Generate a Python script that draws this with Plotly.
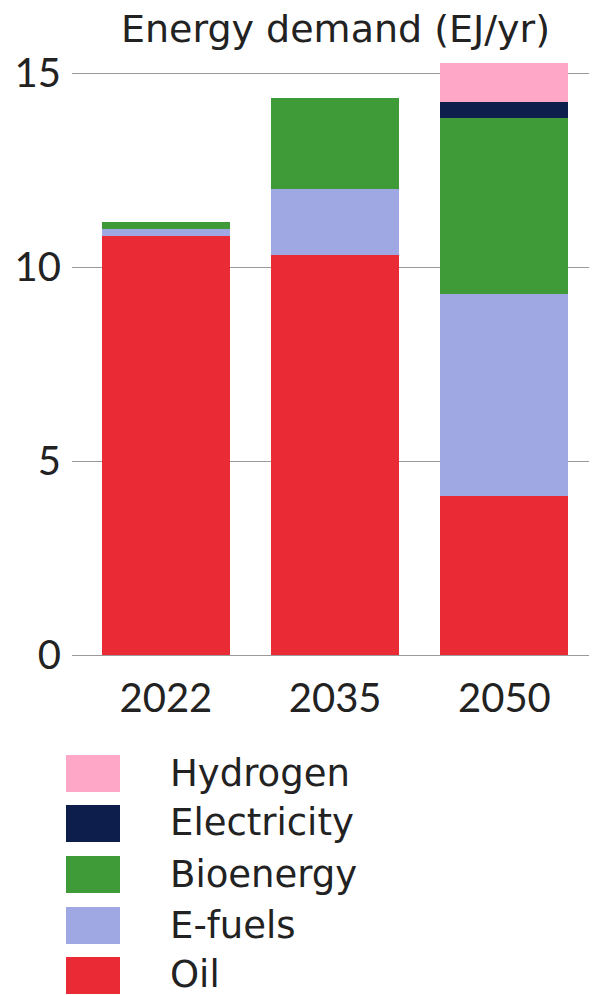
import plotly.graph_objects as go

years = ["2022", "2035", "2050"]
series_names = ["Oil", "E-fuels", "Bioenergy", "Electricity", "Hydrogen"]
oil = [10.8, 10.3, 4.1]
efuels = [0.18, 1.7, 5.2]
bioenergy = [0.17, 2.35, 4.55]
electricity = [0.0, 0.0, 0.4]
hydrogen = [0.0, 0.0, 1.0]
colors = ["#EA2A35", "#A0A8E4", "#3F9A38", "#0E1E4C", "#FFA7C6"]
y_ticks = [0, 5, 10, 15]

values = [oil, efuels, bioenergy, electricity, hydrogen]
FONT = "Lato"
TFONT = "DejaVu Sans"

OFF = 8  # page body margin
W, H = 597 - OFF, 995 - OFF
L, R, T = 72 - OFF, 0, 60 - OFF
plot_bottom = 655 - OFF
B = H - plot_bottom
plot_w = W - L - R
plot_h = H - T - B

fig = go.Figure()
for name, vals, col in zip(series_names, values, colors):
    fig.add_trace(go.Bar(x=years, y=vals, name=name, marker_color=col,
                         marker_line_width=0, showlegend=False))

def px_x(p):
    return (p - OFF - L) / plot_w

def px_y(p):
    return (plot_bottom - (p - OFF)) / plot_h

# custom legend (top to bottom: reversed series order)
leg_top = [755, 805, 856, 907, 957]
for i, (name, col) in enumerate(zip(series_names[::-1], colors[::-1])):
    top = leg_top[i]
    fig.add_shape(type="rect", xref="paper", yref="paper",
                  x0=px_x(66), x1=px_x(120), y0=px_y(top + 37), y1=px_y(top),
                  fillcolor=col, line_width=0)
    fig.add_annotation(xref="paper", yref="paper", x=px_x(168), y=px_y(top + 18),
                       text=name, showarrow=False, xanchor="left", yanchor="middle",
                       font=dict(family=TFONT, size=37, color="#222"))

fig.add_annotation(xref="paper", yref="paper", x=px_x(335), y=px_y(29),
                   text="Energy demand (EJ/yr)", showarrow=False,
                   xanchor="center", yanchor="middle",
                   font=dict(family=TFONT, size=38, color="#222"))

fig.update_layout(
    width=W, height=H,
    margin=dict(l=L, r=R, t=T, b=B),
    barmode="stack", bargap=0.244,
    plot_bgcolor="white", paper_bgcolor="white",
    font=dict(family=FONT, size=40, color="#222"),
)
fig.update_xaxes(range=[-0.555, 2.547], showgrid=False, showline=False,
                 ticks="", tickfont=dict(size=40), ticklabelstandoff=16)
fig.update_yaxes(range=[0, (plot_bottom - T) / 38.8], tickvals=y_ticks, showgrid=True,
                 gridcolor="#9a9a9a", gridwidth=1.2, zeroline=True,
                 zerolinecolor="#9a9a9a", zerolinewidth=1.2, ticks="",
                 tickfont=dict(size=40), ticklabelstandoff=10)

fig.write_html("out.html")
